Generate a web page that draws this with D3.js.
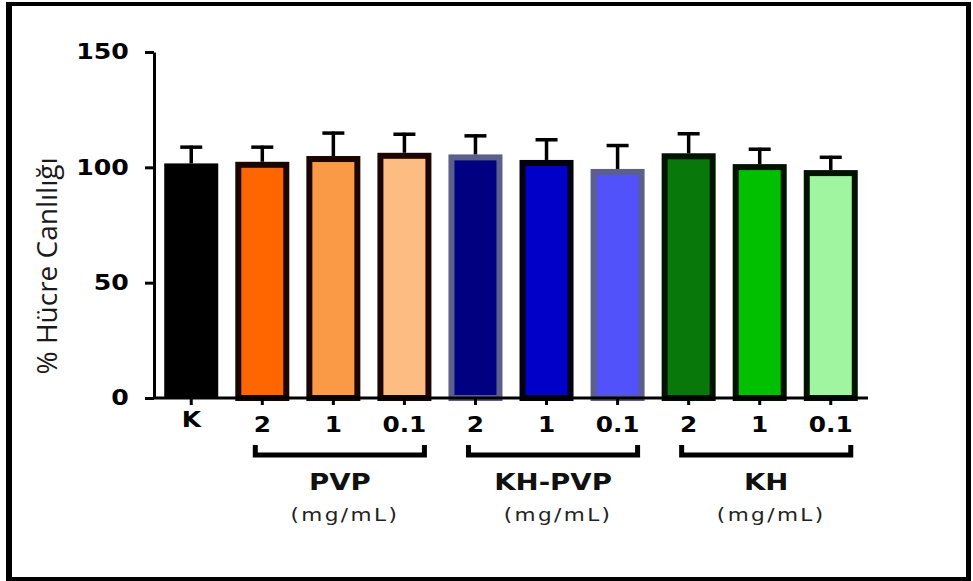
<!DOCTYPE html>
<html>
<head>
<meta charset="utf-8">
<script src="https://d3js.org/d3.v7.min.js"></script>
<style>
  body { margin: 0px; background: #fff; }
  .tick text { font-family: "DejaVu Sans", sans-serif; font-weight: bold; fill: #000; }
  .ytitle { font-family: "Open Sans", sans-serif; fill: #1a1a1a; }
  .grp { font-family: "DejaVu Sans", sans-serif; font-weight: bold; fill: #111; }
  .unit { font-family: "DejaVu Sans", sans-serif; fill: #222; }
</style>
</head>
<body>
<svg id="chart" width="973" height="581"></svg>
<script>
// data
var categories = ["K", "PVP 2", "PVP 1", "PVP 0.1", "KH-PVP 2", "KH-PVP 1", "KH-PVP 0.1", "KH 2", "KH 1", "KH 0.1"];
var tickLabels = ["K", "2", "1", "0.1", "2", "1", "0.1", "2", "1", "0.1"];
var viability = [101.7, 102.4, 104.9, 106.3, 105.6, 103.2, 99.3, 106.1, 101.4, 98.8];
var sd = [7.7, 7.0, 10.6, 8.7, 8.7, 9.4, 10.8, 9.1, 7.1, 6.2];
var fills = ["#000000", "#ff6600", "#fb9a46", "#fdbd82", "#000080", "#0000c8", "#5252fb", "#08780a", "#00c000", "#a0f5a0"];
var borders = ["#000000", "#1a0500", "#1a0500", "#1a0500", "#5c5f8c", "#000010", "#5c5f8c", "#001200", "#001200", "#001200"];
var groupNames = ["PVP", "KH-PVP", "KH"];
var groupFirst = [1, 4, 7];
var groupLast = [3, 6, 9];
var yTicks = [0, 50, 100, 150];

var svg = d3.select("#chart");

// outer frame
svg.append("rect").attr("x", 6).attr("y", 2).attr("width", 6).attr("height", 579).attr("fill", "#000");
svg.append("rect").attr("x", 6).attr("y", 2).attr("width", 965).attr("height", 4).attr("fill", "#000");
svg.append("rect").attr("x", 966).attr("y", 2).attr("width", 5).attr("height", 579).attr("fill", "#000");
svg.append("rect").attr("x", 6).attr("y", 577).attr("width", 965).attr("height", 4).attr("fill", "#000");

var y = d3.scaleLinear().domain([0, 150]).range([398, 52]);
var x = d3.scaleBand().domain(categories).range([155, 867]).paddingInner(0.24).paddingOuter(0.13);
var bw = x.bandwidth();
var sw = 6;

// bars
svg.selectAll(".bar")
  .data(categories)
  .enter().append("rect")
    .attr("class", "bar")
    .attr("x", function(d, i) { return i == 0 ? x(d) : x(d) + sw / 2; })
    .attr("y", function(d, i) { return i == 0 ? y(viability[i]) : y(viability[i]) + sw / 2; })
    .attr("width", function(d, i) { return i == 0 ? bw : bw - sw; })
    .attr("height", function(d, i) { return y(0) - y(viability[i]) - (i == 0 ? 0 : sw / 2); })
    .attr("fill", function(d, i) { return fills[i]; })
    .attr("stroke", function(d, i) { return i == 0 ? "none" : borders[i]; })
    .attr("stroke-width", sw);

// error bars (upper only)
var err = svg.selectAll(".err")
  .data(categories)
  .enter().append("g").attr("class", "err");
err.append("line")
    .attr("x1", function(d) { return x(d) + bw / 2; })
    .attr("x2", function(d) { return x(d) + bw / 2; })
    .attr("y1", function(d, i) { return y(viability[i]); })
    .attr("y2", function(d, i) { return y(viability[i] + sd[i]); })
    .attr("stroke", "#000").attr("stroke-width", 3.5);
err.append("line")
    .attr("x1", function(d) { return x(d) + bw / 2 - 11; })
    .attr("x2", function(d) { return x(d) + bw / 2 + 11; })
    .attr("y1", function(d, i) { return y(viability[i] + sd[i]) + 1.5; })
    .attr("y2", function(d, i) { return y(viability[i] + sd[i]) + 1.5; })
    .attr("stroke", "#000").attr("stroke-width", 3.5);

// axes
var yAxis = svg.append("g")
    .attr("transform", "translate(154,0)")
    .call(d3.axisLeft(y).tickValues(yTicks).tickSize(9).tickPadding(12).tickSizeOuter(0));
yAxis.selectAll("text").attr("font-size", 21).attr("transform", "scale(1.2,1)");

var xAxis = svg.append("g")
    .attr("transform", "translate(0,398)")
    .call(d3.axisBottom(x).tickSize(7).tickPadding(12).tickSizeOuter(0)
      .tickFormat(function(d, i) { return tickLabels[i]; }));
xAxis.selectAll("text").attr("font-size", 21).attr("transform", "scale(1.18,1)");
xAxis.select(".tick text").attr("y", 14);

svg.selectAll(".domain").attr("stroke", "#000").attr("stroke-width", 3);
svg.selectAll(".tick line").attr("stroke", "#000").attr("stroke-width", 3);
xAxis.select(".domain").attr("d", "M154,0H868");

// y axis title
svg.append("text")
    .attr("class", "ytitle")
    .attr("transform", "translate(57,266) rotate(-90)")
    .attr("text-anchor", "middle")
    .attr("font-size", 28)
    .text("% Hücre Canlılığı");

// group brackets and labels
groupNames.forEach(function(name, g) {
  var x0 = x(categories[groupFirst[g]]) + bw / 2 - 7;
  var x1 = x(categories[groupLast[g]]) + bw / 2 + 20;
  var by = 455;
  svg.append("path")
      .attr("d", "M" + x0 + "," + (by - 10) + "V" + by + "H" + x1 + "V" + (by - 10))
      .attr("fill", "none").attr("stroke", "#000").attr("stroke-width", 5);
  var cx = (x0 + x1) / 2;
  svg.append("text")
      .attr("class", "grp")
      .attr("transform", "translate(" + cx + ",490) scale(1.2,1)")
      .attr("text-anchor", "middle")
      .attr("font-size", 23)
      .text(name);
  svg.append("text")
      .attr("class", "unit")
      .attr("transform", "translate(" + (cx + 5) + ",521) scale(1.2,1)")
      .attr("text-anchor", "middle")
      .attr("font-size", 18)
      .attr("letter-spacing", 2)
      .text("(mg/mL)");
});
</script>
</body>
</html>
